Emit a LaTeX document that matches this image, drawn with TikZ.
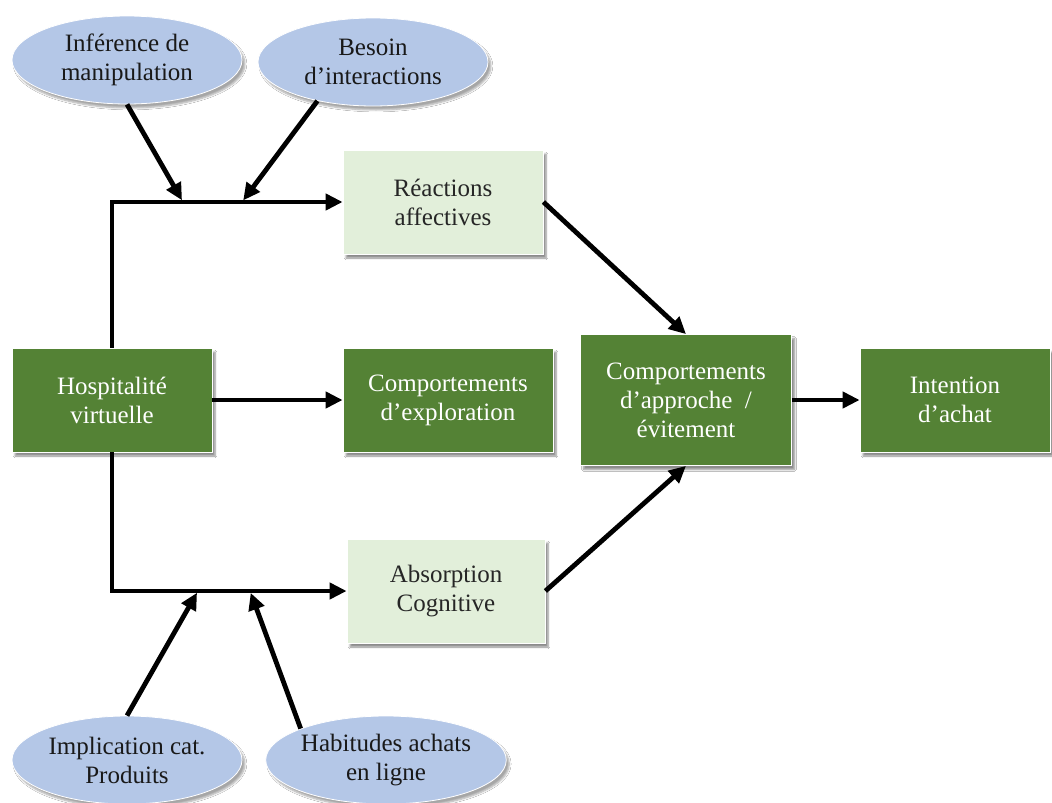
\documentclass[tikz,border=0pt]{standalone}
\usepackage{fontspec}
\setmainfont{Liberation Serif}
\usetikzlibrary{arrows.meta}
\usetikzlibrary{shapes.geometric}
\usetikzlibrary{shadows.blur}
\definecolor{darkgreen}{HTML}{548235}
\definecolor{lightgreen}{HTML}{E2EFDA}
\definecolor{lightblue}{HTML}{B4C7E7}
\tikzset{
	darkbox/.style={rectangle, fill=darkgreen, draw=white, line width=0.8pt, text=white,
		minimum width=200pt, minimum height=104pt, inner sep=0pt, align=center,
		font=\fontsize{25}{29}\selectfont,
		blur shadow={shadow xshift=3pt, shadow yshift=-4pt, shadow blur steps=6, shadow opacity=45}},
	lightbox/.style={darkbox, fill=lightgreen, text=black!85},
	bubble/.style={ellipse, fill=lightblue, draw=white, line width=0.8pt, text=black!90,
		minimum width=230pt, minimum height=88pt, inner sep=0pt, align=center,
		font=\fontsize{25}{29}\selectfont,
		blur shadow={shadow xshift=3pt, shadow yshift=-4pt, shadow blur steps=6, shadow opacity=35}},
	link/.style={line width=4.8pt, -{Triangle[length=17pt,width=16pt]}},
}

\begin{document}
\begin{tikzpicture}[x=1pt,y=-1pt]

	\path[use as bounding box, fill=white] (0,0) rectangle (1052,803);

	\node[bubble] (infer) at (127,60) {Inférence de\\manipulation};
	\node[bubble] (besoin) at (373,62) {Besoin\\d’interactions};
	\node[lightbox] (reac) at (443,202) {Réactions\\affectives};
	\node[darkbox] (hosp) at (112,400) {Hospitalité\\virtuelle};
	\node[darkbox, minimum width=210pt] (explo) at (448,400) {Comportements\\d’exploration};
	\node[darkbox, minimum width=211pt, minimum height=131pt] (appro) at (686,400) {Comportements\\d’approche~~/\\évitement};
	\node[darkbox, minimum width=190pt] (intent) at (955,400) {Intention\\d’achat};
	\node[lightbox, minimum width=198pt] (absorb) at (446,591) {Absorption\\Cognitive};
	\node[bubble] (implic) at (127,760) {Implication cat.\\Produits};
	\node[bubble] (habit) at (386,760) {Habitudes achats\\en ligne};

	\coordinate (j1) at (183,202);
	\coordinate (j2) at (242,202);
	\coordinate (j3) at (198,591);
	\coordinate (j4) at (250,591);

	\draw[link] (hosp.north) |- (reac.west);
	\draw[link] (hosp.south) |- (absorb.west);
	\draw[link] (hosp) -- (explo);
	\draw[link, shorten >=2pt] (infer.south) -- (j1);
	\draw[link, shorten >=2pt] (besoin.215) -- (j2);
	\draw[link, shorten >=2pt] (implic.north) -- (j3);
	\draw[link, shorten >=2pt] (habit.north west) -- (j4);
	\draw[link] (reac.east) -- (appro.north);
	\draw[link] (absorb.east) -- (appro.south);
	\draw[link] (appro) -- (intent);

\end{tikzpicture}
\end{document}
